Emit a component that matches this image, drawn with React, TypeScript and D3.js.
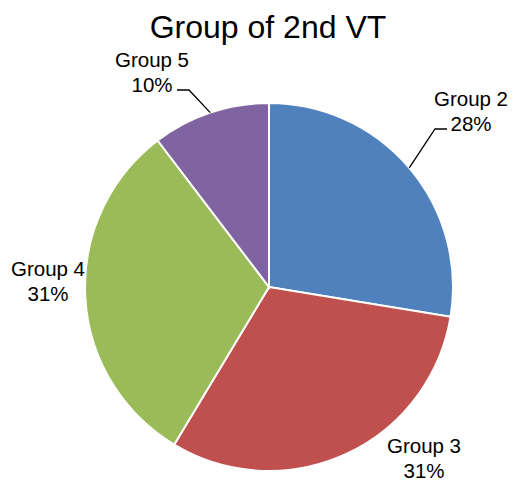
import React, { useRef, useEffect } from 'react';
import * as d3 from 'd3';

const title = 'Group of 2nd VT';
const groups = ['Group 2', 'Group 3', 'Group 4', 'Group 5'];
const counts = [8, 9, 9, 3];
const colors = ['#4F81BD', '#C0504D', '#9BBB59', '#8064A2'];

const App = () => {
  const ref = useRef<SVGSVGElement | null>(null);

  useEffect(() => {
    const svg = d3.select(ref.current);
    svg.selectAll('*').remove();

    const width = 515;
    const height = 481;
    const cx = 269;
    const cy = 287;
    const r = 184;

    svg.append('rect').attr('width', width).attr('height', height).attr('fill', '#fff');

    svg.append('text')
      .attr('x', 268)
      .attr('y', 38)
      .attr('text-anchor', 'middle')
      .style('font-family', 'Arial, "Liberation Sans", sans-serif')
      .style('font-size', '32px')
      .text(title);

    const total = d3.sum(counts);
    const pie = d3.pie<number>().sort(null).value(d => d);
    const arcs = pie(counts);
    const arc = d3.arc<d3.PieArcDatum<number>>().innerRadius(0).outerRadius(r);

    const g = svg.append('g').attr('transform', `translate(${cx},${cy})`);
    g.selectAll('path')
      .data(arcs)
      .join('path')
      .attr('d', arc)
      .attr('fill', (_, i) => colors[i])
      .attr('stroke', '#fff')
      .attr('stroke-width', 2);

    // label placement, Excel style; leader = x where the short horizontal tick starts
    const labelPos: Record<string, { x: number; y: number; leader?: number }> = {
      'Group 2': { x: 471, y: 106, leader: 447 },
      'Group 3': { x: 424, y: 453 },
      'Group 4': { x: 48, y: 276 },
      'Group 5': { x: 152, y: 67, leader: 177 },
    };

    arcs.forEach((a, i) => {
      const name = groups[i];
      const p = labelPos[name];
      const pct = Math.round((counts[i] / total) * 100) + '%';
      const t = svg.append('text')
        .attr('text-anchor', 'middle')
        .style('font-family', 'Arial, "Liberation Sans", sans-serif')
        .style('font-size', '20.5px')
        .attr('fill', '#000');
      t.append('tspan').attr('x', p.x).attr('y', p.y).text(name);
      t.append('tspan').attr('x', p.x).attr('y', p.y + 25).text(pct);

      if (p.leader !== undefined) {
        const mid = (a.startAngle + a.endAngle) / 2;
        const ex = cx + r * Math.sin(mid);
        const ey = cy - r * Math.cos(mid);
        const ly = p.y + 23;
        const kx = ex > p.leader ? p.leader + 12 : p.leader - 12;
        svg.append('path')
          .attr('d', `M${p.leader},${ly}L${kx},${ly}L${ex},${ey}`)
          .attr('fill', 'none')
          .attr('stroke', '#000')
          .attr('stroke-width', 1.3);
      }
    });
  }, []);

  return (
    <svg ref={ref} width={515} height={481} style={{ position: 'absolute', left: 0, top: 0 }} />
  );
};

export default App;
